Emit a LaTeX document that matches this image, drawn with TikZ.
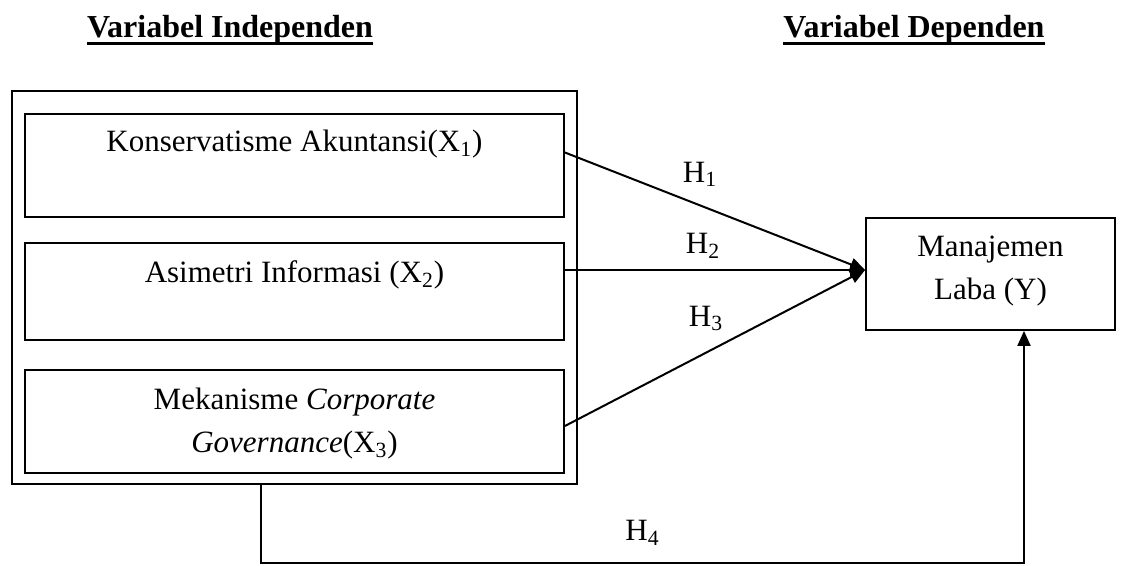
\documentclass[tikz,border=0pt]{standalone}
\usepackage{fontspec}
\setmainfont{Liberation Serif}
\usetikzlibrary{arrows.meta}
\newcommand{\ulhead}[1]{\setbox0\hbox{#1}\rlap{\rule[-3.5pt]{\wd0}{1.3pt}}\box0}

\begin{document}
\begin{tikzpicture}[x=0.5pt,y=-0.5pt,font=\fontsize{15.5}{21.5}\selectfont,
  heading/.style={font=\fontsize{16}{18}\selectfont\bfseries},
  varbox/.style={draw,line width=0.9pt,inner xsep=0pt,inner ysep=0pt,minimum width=269.5pt},
  hyp/.style={-{Triangle[length=7.5pt,width=6.5pt]},line width=1pt}]
  \useasboundingbox (0,0) rectangle (1130,566);
  \node[heading] (headind) at (230,30) {\ulhead{Variabel Independen}};
  \node[heading] (headdep) at (914,30) {\ulhead{Variabel Dependen}};
  \node[draw,line width=0.8pt,minimum width=282.5pt,minimum height=196.5pt] (outer) at (294.5,287.5) {};
  \node[varbox,text height=19pt,text depth=32.5pt] (x1) at (294.5,165.5) {Konservatisme Akuntansi(X\textsubscript{1})};
  \node[varbox,text height=20pt,text depth=28.5pt] (x2) at (294.5,291.5) {Asimetri Informasi (X\textsubscript{2})};
  \node[varbox,align=center,text height=41.5pt,text depth=10pt] (x3) at (294.5,421.5) {Mekanisme \textit{Corporate}\\\textit{Governance}(X\textsubscript{3})};
  \node[draw,line width=0.9pt,align=center,inner ysep=0pt,minimum width=124.5pt,text height=41pt,text depth=15pt] (y) at (990.5,274) {Manajemen\\Laba (Y)};
  \coordinate (tip) at ([yshift=2pt]y.west);
  % hipotesis
  \draw[hyp] ([yshift=6.5pt]x1.east) -- node[pos=0.45,yshift=15.5pt] {H\textsubscript{1}} (tip);
  \draw[hyp] (x2.east |- tip) -- node[pos=0.46,yshift=12pt] {H\textsubscript{2}} (tip);
  \draw[hyp] ([yshift=-2.25pt]x3.east) -- node[pos=0.47,yshift=17pt] {H\textsubscript{3}} (tip);
  \draw[hyp] ([xshift=-16.75pt]outer.south) -- ++(0,78) -| node[pos=0.25,yshift=15pt] {H\textsubscript{4}} ([xshift=16.75pt]y.south);
\end{tikzpicture}
\end{document}
